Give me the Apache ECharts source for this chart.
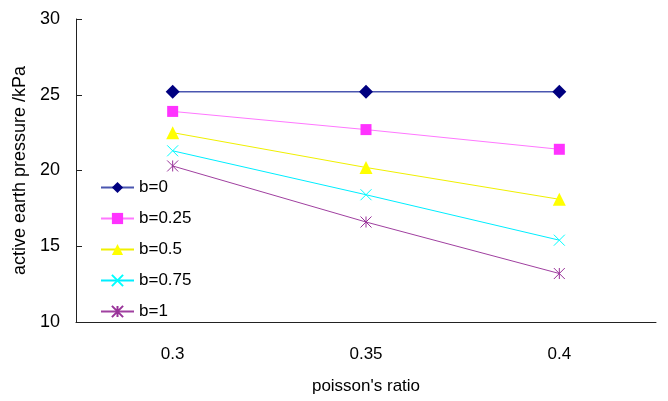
<!DOCTYPE html>
<html><head><meta charset="utf-8">
<script src="https://cdn.jsdelivr.net/npm/echarts@6/dist/echarts.min.js"></script>
<style>html,body{margin:0;padding:0;background:#fff}#c{width:668px;height:401px}</style>
</head><body><div id="c"></div>
<script>
const categories = ['0.3', '0.35', '0.4'];
const seriesNames = ['b=0', 'b=0.25', 'b=0.5', 'b=0.75', 'b=1'];
const b0 = [25.2, 25.2, 25.2];
const b025 = [23.9, 22.7, 21.4];
const b05 = [22.5, 20.2, 18.1];
const b075 = [21.3, 18.4, 15.4];
const b1 = [20.3, 16.6, 13.2];
const yTicks = [10, 15, 20, 25, 30];

const FONT = 'Liberation Sans, Arial, sans-serif';
const crossPath = 'path://M0,0L10,10M10,0L0,10';
const starPath = 'path://M0,0L10,10M10,0L0,10M5,0L5,10';

function mk(name, data, color, lineColor, symbol, size, stroke, lw) {
  const s = {
    name: name, type: 'line', data: data, symbol: symbol, symbolSize: size,
    lineStyle: {color: lineColor, width: lw || 1},
    itemStyle: {color: color},
    emphasis: {disabled: true}
  };
  if (stroke) {
    s.itemStyle = {color: color, borderColor: color, borderWidth: 1};
  }
  return s;
}

const chart = echarts.init(document.getElementById('c'), null, {renderer: 'canvas'});
chart.setOption({
  animation: false,
  backgroundColor: '#fff',
  grid: {left: 76, right: 12, top: 19, bottom: 79, containLabel: false},
  legend: {
    orient: 'vertical', left: 95, top: 174,
    itemWidth: 33, itemHeight: 14, itemGap: 14,
    textStyle: {fontFamily: FONT, fontSize: 17, color: '#000'},
    data: seriesNames
  },
  xAxis: {
    type: 'category', data: categories, boundaryGap: true,
    name: "poisson's ratio", nameLocation: 'middle', nameGap: 56,
    nameTextStyle: {fontFamily: FONT, fontSize: 17, color: '#000'},
    axisLine: {lineStyle: {color: '#222', width: 1}},
    axisTick: {inside: true, length: 6, lineStyle: {color: '#222'}},
    axisLabel: {fontFamily: FONT, fontSize: 17, color: '#000', margin: 24},
    splitLine: {show: false}
  },
  yAxis: {
    type: 'value', min: yTicks[0], max: yTicks[yTicks.length - 1], interval: 5,
    name: 'active earth pressure /kPa', nameLocation: 'middle', nameGap: 46,
    nameTextStyle: {fontFamily: FONT, fontSize: 18, color: '#000'},
    axisLine: {show: true, lineStyle: {color: '#222', width: 1}},
    axisTick: {show: true, inside: true, length: 6, lineStyle: {color: '#222'}},
    axisLabel: {fontFamily: FONT, fontSize: 18, color: '#000', margin: 16},
    splitLine: {show: false}
  },
  series: [
    mk(seriesNames[0], b0, '#000080', '#4a56b0', 'diamond', 14, false, 1.5),
    mk(seriesNames[1], b025, '#ff33ff', '#ff77ff', 'rect', 11, false, 1),
    mk(seriesNames[2], b05, '#ffff00', '#f0f000', 'triangle', 13, false, 1),
    mk(seriesNames[3], b075, '#00ffff', '#00eeff', crossPath, 11, true, 1),
    mk(seriesNames[4], b1, '#993399', '#a040a0', starPath, 11, true, 1)
  ]
});
</script></body></html>
